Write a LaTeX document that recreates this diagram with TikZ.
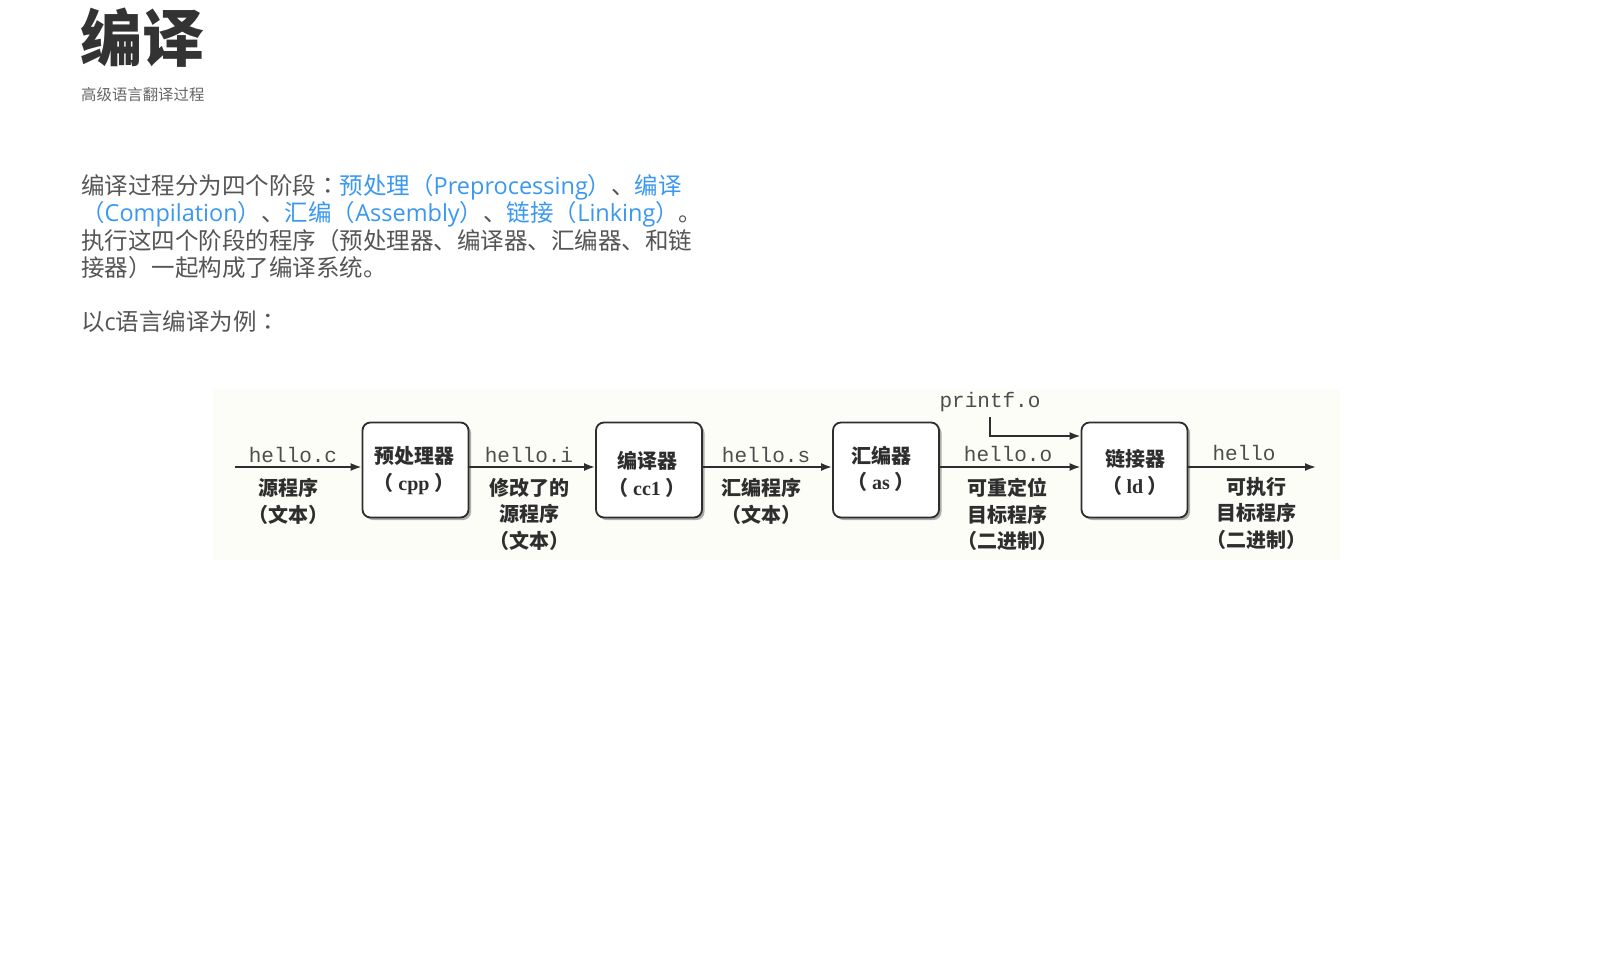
\documentclass[tikz,border=0pt]{standalone}
\usepackage{fontspec}
\setmainfont{Noto Sans CJK SC}
\newfontfamily\mono{Liberation Mono}
\newfontfamily\serifb{Liberation Serif}
\newfontfamily\latin{Open Sans}
\newfontfamily\jpfont{Noto Sans CJK JP}
\newcommand{\jpcolon}{{\jpfont ：}}
\usetikzlibrary{arrows.meta,shadows}
\definecolor{titlec}{HTML}{333333}
\definecolor{textc}{HTML}{555555}
\definecolor{subc}{HTML}{666666}
\definecolor{linkc}{HTML}{3A98F0}
\definecolor{inkc}{HTML}{2E2E2E}
\definecolor{bgc}{HTML}{FDFDF7}
\begin{document}
\begin{tikzpicture}[x=1pt,y=-1pt,
  para/.style={anchor=base west,inner sep=0pt,text=textc,font=\fontsize{23.5}{27}\selectfont},
  stage/.style={draw=inkc,line width=1.8pt,rounded corners=8pt,fill=white,minimum width=106pt,minimum height=95pt,
     drop shadow={shadow xshift=2.5pt,shadow yshift=-2.5pt,fill=black!45,opacity=0.7}},
  boxtxt/.style={text=inkc,inner sep=0pt,font=\fontsize{20}{24}\selectfont\bfseries},
  fname/.style={text=inkc!85,inner sep=0pt,font=\fontsize{21}{24}\selectfont\mono},
  desc/.style={text=inkc,inner sep=0pt,align=center,font=\fontsize{20}{26.5}\selectfont\bfseries},
  arr/.style={draw=inkc,line width=1.8pt,-{Latex[length=11pt,width=8pt]}}]
\useasboundingbox (0,0) rectangle (1600,960);
\fill[white] (0,0) rectangle (1600,960);
% header
\node[anchor=base west,inner sep=0pt,text=titlec,font=\fontsize{62}{70}\selectfont\bfseries] (title) at (80,62) {编译};
\node[anchor=base west,inner sep=0pt,text=subc,font=\fontsize{15.4}{18}\selectfont] (sub) at (81,101) {高级语言翻译过程};
% paragraph
\node[para] (l1) at (81,194) {编译过程分为四个阶段\jpcolon\textcolor{linkc}{预处理（{\latin Preprocessing}）}、\textcolor{linkc}{编译}};
\node[para] (l2) at (81,221.5) {\textcolor{linkc}{（{\latin Compilation}）}、\textcolor{linkc}{汇编（{\latin Assembly}）}、\textcolor{linkc}{链接（{\latin Linking}）}。};
\node[para] (l3) at (81,249) {执行这四个阶段的程序（预处理器、编译器、汇编器、和链};
\node[para] (l4) at (81,276.5) {接器）一起构成了编译系统。};
\node[para] (l5) at (81,330.5) {以{\latin c}语言编译为例\jpcolon};
% diagram background
\fill[bgc] (213,390) rectangle (1340,560);
% boxes
\node[stage] (b1) at (415.5,470) {};
\node[stage] (b2) at (649,470) {};
\node[stage] (b3) at (886,470) {};
\node[stage] (b4) at (1134.5,470) {};
\node[boxtxt] (t1a) at (414,456) {预处理器};
\node[boxtxt] (t1b) at (414,484) {（ {\serifb cpp} ）};
\node[boxtxt] (t2a) at (647,461) {编译器};
\node[boxtxt] (t2b) at (647,488) {（ {\serifb cc1} ）};
\node[boxtxt] (t3a) at (881,456) {汇编器};
\node[boxtxt] (t3b) at (881,482) {（ {\serifb as} ）};
\node[boxtxt] (t4a) at (1135,459) {链接器};
\node[boxtxt] (t4b) at (1135,486) {（ {\serifb ld} ）};
% connectors
\coordinate (s) at (235,467);
\coordinate (e) at (1316,467);
\coordinate (pl) at (0,436);
\draw[arr] (s) -- (s -| b1.west);
\draw[arr] (b1.east |- s) -- (s -| b2.west);
\draw[arr] (b2.east |- s) -- (s -| b3.west);
\draw[arr] (b3.east |- s) -- (s -| b4.west);
\draw[arr] (b4.east |- s) -- (e);
\node[fname] (pf) at (990,402) {printf.o};
\draw[arr] ([yshift=-5pt]pf.south) |- (b4.west |- pl);
% labels
\node[fname] (f1) at (293,455) {hello.c};
\node[fname] (f2) at (529,455) {hello.i};
\node[fname] (f3) at (766,455) {hello.s};
\node[fname] (f4) at (1008,454) {hello.o};
\node[fname] (f5) at (1244,453) {hello};
\node[desc,anchor=north] (d1) at (288,478) {源程序\\（文本）};
\node[desc,anchor=north] (d2) at (529,478) {修改了的\\源程序\\（文本）};
\node[desc,anchor=north] (d3) at (761,478) {汇编程序\\（文本）};
\node[desc,anchor=north] (d4) at (1007,478) {可重定位\\目标程序\\（二进制）};
\node[desc,anchor=north] (d5) at (1256,477) {可执行\\目标程序\\（二进制）};
\end{tikzpicture}
\end{document}
